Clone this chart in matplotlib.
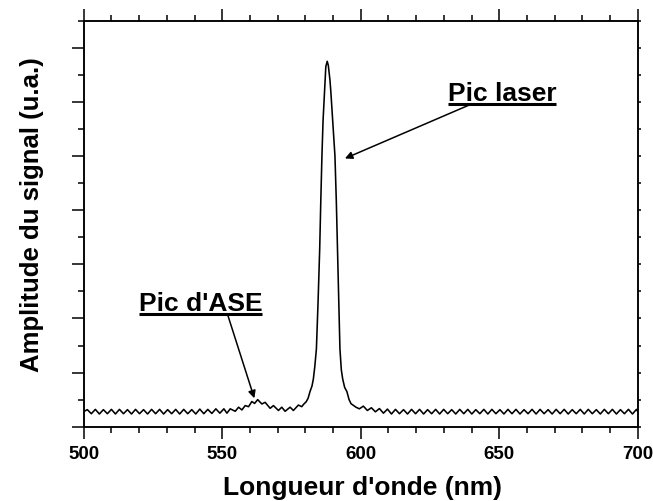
import numpy as np
import matplotlib
matplotlib.use("Agg")
from matplotlib import pyplot as plt
from matplotlib.ticker import MultipleLocator

plt.rcParams['font.family'] = ['Liberation Sans', 'DejaVu Sans']
plt.rcParams['font.weight'] = 'bold'

# ---- data (wavelength in nm, signal in arbitrary units) ----

# baseline ripple on the left, sampled at peaks / troughs
left_nm = np.concatenate([[500.0], 501.3 + 1.45 * np.arange(35)])
left_val = [0.56,
            0.63, 0.48, 0.64, 0.47, 0.63, 0.48, 0.64, 0.47, 0.64, 0.48,
            0.63, 0.47, 0.64, 0.48, 0.63, 0.47, 0.64, 0.48, 0.64, 0.47,
            0.63, 0.48, 0.64, 0.47, 0.64, 0.48, 0.63, 0.47, 0.65, 0.48,
            0.64, 0.49, 0.66, 0.50, 0.66]

# small ASE bump
ase_nm = [551.7, 552.9, 554.7, 555.9, 557.1, 558.3, 559.5, 560.7, 561.7, 562.8,
          564.3, 565.5, 567.3, 568.5, 570.3, 571.5, 572.7, 574.5, 575.7, 577.5,
          578.7, 579.5]
ase_val = [0.50, 0.66, 0.57, 0.72, 0.62, 0.78, 0.74, 0.93, 0.86, 1.00,
           0.84, 0.90, 0.68, 0.78, 0.60, 0.72, 0.57, 0.72, 0.60, 0.80,
           0.74, 0.84]

# laser peak
peak_nm = [580.3, 581.0, 581.7, 582.4, 582.9, 583.4, 584.0, 584.6, 585.2, 585.6,
           586.0, 586.4, 587.0, 587.4, 587.9, 588.3, 588.9, 589.2, 589.9, 590.3,
           590.7, 591.2, 591.6, 592.1, 592.5, 593.0, 593.5, 594.2, 595.0, 595.8,
           596.5, 597.2, 598.3]
peak_val = [0.92, 1.05, 1.30, 1.50, 1.76, 2.20, 2.87, 4.60, 6.60, 8.40,
            10.0, 11.3, 12.5, 13.3, 13.5, 13.35, 12.8, 12.4, 11.3, 10.7,
            10.0, 8.30, 6.60, 4.60, 2.87, 2.10, 1.76, 1.45, 1.30, 1.00,
            0.85, 0.80, 0.72]

# baseline ripple on the right
right_nm = np.concatenate([599.5 + 1.45 * np.arange(70), [700.0]])
right_val = [0.66, 0.76, 0.60, 0.70, 0.55, 0.67, 0.50, 0.65,
             0.47, 0.64, 0.48, 0.63, 0.47, 0.64, 0.48, 0.64, 0.47, 0.63,
             0.48, 0.64, 0.47, 0.64, 0.48, 0.63, 0.47, 0.64, 0.48, 0.64,
             0.47, 0.63, 0.48, 0.64, 0.47, 0.64, 0.48, 0.63, 0.47, 0.64,
             0.48, 0.64, 0.47, 0.63, 0.48, 0.64, 0.47, 0.64, 0.48, 0.63,
             0.47, 0.64, 0.48, 0.64, 0.47, 0.63, 0.48, 0.64, 0.47, 0.64,
             0.48, 0.63, 0.47, 0.64, 0.48, 0.64, 0.47, 0.63, 0.48, 0.64,
             0.47, 0.64, 0.56]

wavelength = np.concatenate([left_nm, ase_nm, peak_nm, right_nm])
signal = np.concatenate([left_val, ase_val, peak_val, right_val])

x_ticks = [500, 550, 600, 650, 700]

# annotations: text, text position, arrow tip, where the arrow leaves the underline (fraction)
laser_label, laser_xy, laser_tip, laser_from = "Pic laser", (651.0, 12.07), (594.3, 9.91), 0.22
ase_label, ase_xy, ase_tip, ase_from = "Pic d'ASE", (542.1, 4.30), (561.6, 1.05), 0.72

# ---- figure ----
fig = plt.figure(figsize=(6.53, 5.02), dpi=100)
ax = fig.add_axes([0.1282, 0.148, 0.8484, 0.8088])

ax.plot(wavelength, signal, color='black', lw=1.15)

ax.set_xlim(500, 700)
ax.set_ylim(0, 15)
ax.set_xticks(x_ticks)
ax.xaxis.set_minor_locator(MultipleLocator(10))
ax.yaxis.set_major_locator(MultipleLocator(2))
ax.yaxis.set_minor_locator(MultipleLocator(1))
ax.tick_params(which='both', direction='out', top=True, right=False,
               labelleft=False, width=1.1, labelsize=13.5, pad=5)
ax.tick_params(which='major', length=8.5)
ax.tick_params(which='minor', length=4)
for s in ax.spines.values():
    s.set_linewidth(1.1)

# right spine: very short ticks
ax2 = ax.twinx()
ax2.set_ylim(ax.get_ylim())
ax2.yaxis.set_major_locator(MultipleLocator(1))
ax2.tick_params(direction='out', length=1.8, width=1.1, labelright=False)
for s in ax2.spines.values():
    s.set_linewidth(1.1)

ax.set_xlabel("Longueur d'onde (nm)", fontsize=19, fontweight='bold')
ax.set_ylabel("Amplitude du signal (u.a.)", fontsize=18.5, fontweight='bold')
ax.xaxis.set_label_coords(0.503, -0.118)
ax.yaxis.set_label_coords(-0.072, 0.524)

texts = []
for label, xy, tip, frac in [(laser_label, laser_xy, laser_tip, laser_from),
                             (ase_label, ase_xy, ase_tip, ase_from)]:
    t = ax.text(xy[0], xy[1], label, fontsize=19, fontweight='bold',
                ha='center', va='baseline')
    texts.append((t, tip, frac))

# underline each label and start the arrow from the underline
fig.canvas.draw()
inv = ax.transData.inverted()
for t, tip, frac in texts:
    bb = t.get_window_extent()
    (x0, y0), (x1, _) = inv.transform([[bb.x0, bb.y0 + 1], [bb.x1, bb.y0 + 1]])
    ax.plot([x0, x1], [y0, y0], color='black', lw=2.2, solid_capstyle='butt')
    start_x = x0 + frac * (x1 - x0)
    ax.annotate("", xy=tip, xytext=(start_x, y0),
                arrowprops=dict(arrowstyle='-|>', color='black', lw=1.1,
                                mutation_scale=11, shrinkA=0, shrinkB=0))

fig.savefig("out.png", dpi=100)
